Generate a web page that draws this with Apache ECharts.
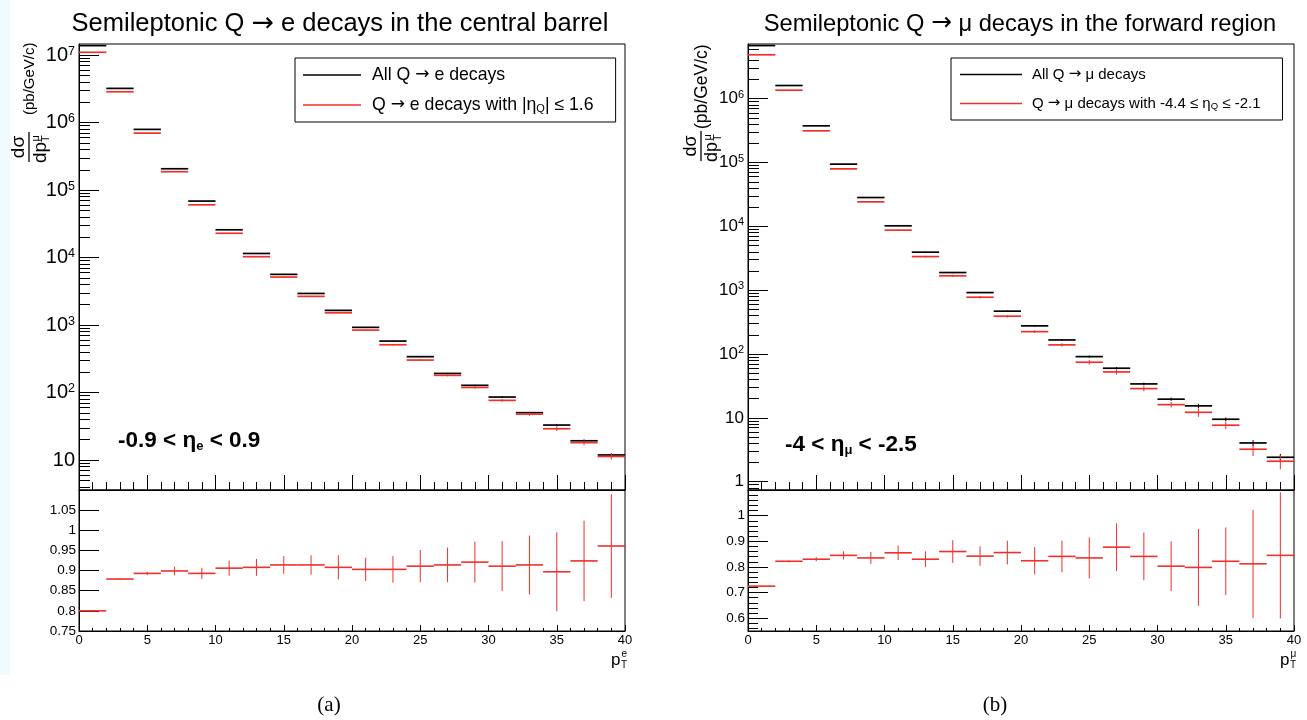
<!DOCTYPE html>
<html><head><meta charset="utf-8">
<script src="https://cdn.jsdelivr.net/npm/echarts@6/dist/echarts.min.js"></script>
<style>html,body{margin:0;padding:0;background:#fff}#c{width:1307px;height:720px}</style>
</head><body><div id="c"></div>
<script>
// ---------------- data ----------------
const binCenters = [1,3,5,7,9,11,13,15,17,19,21,23,25,27,29,31,33,35,37,39];
const binHalfWidth = 1;

// (a) central barrel, Q -> e
const eAll    = [1.38e7,3.21e6,7.93e5,2.07e5,6.87e4,2.58e4,1.15e4,5.64e3,2.94e3,1.65e3,925,579,340,192,128,85.8,50.3,33,19.3,11.9];
const eAllErr = [0.001,0.001,0.002,0.004,0.005,0.007,0.008,0.009,0.01,0.012,0.012,0.014,0.016,0.018,0.022,0.027,0.03,0.04,0.045,0.055];
const eCut    = [1.10e7,2.86e6,6.98e5,1.87e5,6.05e4,2.29e4,1.03e4,5.14e3,2.66e3,1.52e3,843,511,303,180,119,76.6,48,29.1,18.1,11.3];
const eCutErr = [0.001,0.002,0.004,0.008,0.01,0.013,0.015,0.017,0.018,0.022,0.022,0.025,0.03,0.033,0.04,0.05,0.055,0.075,0.08,0.1];
const eRatio    = [0.80,0.879,0.893,0.899,0.893,0.906,0.908,0.914,0.914,0.908,0.903,0.903,0.911,0.914,0.921,0.911,0.914,0.897,0.924,0.961];
const eRatioErr = [0.001,0.002,0.004,0.011,0.014,0.019,0.021,0.022,0.024,0.030,0.029,0.033,0.040,0.043,0.051,0.062,0.073,0.098,0.10,0.129];

// (b) forward region, Q -> mu
const muAll    = [6.8e6,1.61e6,3.76e5,9.44e4,2.83e4,1.02e4,3.94e3,1.89e3,917,469,276,166,91,59.9,34,19.6,15.4,9.5,4.04,2.41];
const muAllErr = [0.002,0.003,0.005,0.008,0.01,0.012,0.015,0.02,0.02,0.025,0.03,0.035,0.04,0.045,0.05,0.06,0.08,0.07,0.11,0.13];
const muCut    = [4.88e6,1.36e6,3.14e5,7.96e4,2.42e4,8.72e3,3.36e3,1.68e3,776,391,224,139,74.3,52.4,28.7,16.1,12.2,7.66,3.22,2.09];
const muCutErr = [0.003,0.005,0.01,0.015,0.02,0.025,0.03,0.04,0.04,0.045,0.05,0.06,0.08,0.09,0.09,0.1,0.15,0.13,0.22,0.25];
const muRatio    = [0.725,0.822,0.830,0.845,0.835,0.855,0.830,0.860,0.842,0.856,0.824,0.841,0.835,0.877,0.841,0.803,0.798,0.822,0.812,0.845];
const muRatioErr = [0.002,0.004,0.008,0.016,0.023,0.028,0.031,0.044,0.038,0.046,0.053,0.062,0.080,0.093,0.093,0.097,0.150,0.132,0.211,0.246];

// axis ticks / labels
const logMajorA = [10,1e2,1e3,1e4,1e5,1e6,1e7];
const logMajorB = [1,10,1e2,1e3,1e4,1e5,1e6];
const ratioTicksB = [0.6,0.7,0.8,0.9,1.0];

const titleA = 'Semileptonic Q \u2192 e decays in the central barrel';
const titleB = 'Semileptonic Q \u2192 \u03bc decays in the forward region';
const legA = ['All Q \u2192 e decays', 'Q \u2192 e decays with |\u03b7_Q| \u2264 1.6'];
const legB = ['All Q \u2192 \u03bc decays', 'Q \u2192 \u03bc decays with -4.4 \u2264 \u03b7_Q \u2264 -2.1'];

// ---------------- helpers ----------------
const SANS = '"Liberation Sans", Arial, Helvetica, sans-serif';
const ARROWF = '"DejaVu Sans", sans-serif';
const BLACK = '#000000';
const RED = '#f0302a';

function minorLog(lo, hi) {
  const out = [];
  for (let n = lo; n <= hi; n++) for (let k = 2; k <= 9; k++) out.push(k * Math.pow(10, n));
  return out;
}
function minorLin(lo, hi, step, skip) {
  const out = [];
  const n = Math.round((hi - lo) / step);
  for (let i = 0; i <= n; i++) {
    const v = +(lo + i * step).toFixed(4);
    if (!skip.some(s => Math.abs(s - v) < 1e-6)) out.push(v);
  }
  return out;
}
function histData(vals, rel) { return binCenters.map((c, i) => [c, vals[i], vals[i] * rel[i]]); }
function ratioData(vals, err) { return binCenters.map((c, i) => [c, vals[i], err[i]]); }
function histRender(color, w) {
  return function (params, api) {
    const x = api.value(0), y = api.value(1), e = api.value(2);
    const p1 = api.coord([x - binHalfWidth, y]);
    const p2 = api.coord([x + binHalfWidth, y]);
    const lo = api.coord([x, Math.max(y - e, 1e-9)]);
    const hi = api.coord([x, y + e]);
    return {
      type: 'group', children: [
        { type: 'line', shape: { x1: p1[0], y1: p1[1], x2: p2[0], y2: p2[1] }, style: { stroke: color, lineWidth: w } },
        { type: 'line', shape: { x1: lo[0], y1: lo[1], x2: hi[0], y2: hi[1] }, style: { stroke: color, lineWidth: 1 } }
      ]
    };
  };
}
function powLabel(v) {
  const n = Math.round(Math.log10(v));
  if (n <= 1) return String(Math.round(v));
  return '10{sup|' + n + '}';
}
function richArrow(s) { return s.replace('\u2192', '{arr|\u2192}'); }
function legendFmt(name) {
  return richArrow(name).replace('\u03b7_Q', '\u03b7{sub|Q}');
}

// ---------------- layout ----------------
const G = [
  { left: 79, top: 44, width: 546, height: 446 },
  { left: 79, top: 490, width: 546, height: 141 },
  { left: 748, top: 44, width: 546, height: 446 },
  { left: 748, top: 490, width: 546, height: 141 }
];

function topX(gi) {
  return {
    type: 'value', gridIndex: gi, min: 0, max: 40, interval: 5,
    axisLine: { show: true, lineStyle: { color: BLACK, width: 1 } },
    axisTick: { show: true, inside: true, length: 15, lineStyle: { color: BLACK } },
    minorTick: { show: true, splitNumber: 5, length: 8, lineStyle: { color: BLACK } },
    axisLabel: { show: false }, splitLine: { show: false }
  };
}
function ratioX(gi) {
  return {
    type: 'value', gridIndex: gi, min: 0, max: 40, interval: 5,
    axisLine: { show: true, lineStyle: { color: BLACK, width: 1 } },
    axisTick: { show: true, inside: true, length: 6, lineStyle: { color: BLACK } },
    minorTick: { show: true, splitNumber: 5, length: 3, lineStyle: { color: BLACK } },
    axisLabel: { show: true, margin: 3, fontSize: 13, fontFamily: SANS, color: BLACK },
    splitLine: { show: false }
  };
}
function logY(gi, min, max, major, fs, sfs) {
  return {
    type: 'log', logBase: 10, gridIndex: gi, min: min, max: max, position: 'left',
    axisLine: { show: true, lineStyle: { color: BLACK, width: 1 } },
    axisTick: { show: true, inside: true, length: 20, customValues: major, lineStyle: { color: BLACK } },
    axisLabel: {
      show: true, margin: 4, customValues: major, fontSize: fs, fontFamily: SANS, color: BLACK,
      formatter: powLabel,
      rich: { sup: { fontSize: sfs, fontFamily: SANS, color: BLACK, verticalAlign: 'top', padding: [0, 0, 8, 0] } }
    },
    splitLine: { show: false }, minorTick: { show: false }
  };
}
function logYMinor(gi, min, max, minor) {
  return {
    type: 'log', logBase: 10, gridIndex: gi, min: min, max: max, position: 'left', offset: 0,
    axisLine: { show: false },
    axisTick: { show: true, inside: true, length: 11, customValues: minor, lineStyle: { color: BLACK } },
    axisLabel: { show: false }, splitLine: { show: false }
  };
}

const option = {
  animation: false,
  backgroundColor: '#ffffff',
  grid: G.map(g => Object.assign({ show: true, borderColor: BLACK, borderWidth: 1, backgroundColor: 'transparent', containLabel: false }, g)),
  xAxis: [topX(0), ratioX(1), topX(2), ratioX(3)],
  yAxis: [
    logY(0, 3.6, 1.46e7, logMajorA, 20, 12.5),
    logYMinor(0, 3.6, 1.46e7, minorLog(0, 7)),
    {
      type: 'value', gridIndex: 1, min: 0.75, max: 1.1, interval: 0.05, position: 'left',
      axisLine: { show: true, lineStyle: { color: BLACK } },
      axisTick: { show: true, inside: true, length: 20, lineStyle: { color: BLACK } },
      axisLabel: { show: true, margin: 3, fontSize: 13.5, fontFamily: SANS, color: BLACK, showMaxLabel: false },
      splitLine: { show: false }
    },
    logY(2, 0.74, 7.2e6, logMajorB, 17, 11),
    logYMinor(2, 0.74, 7.2e6, minorLog(-1, 6)),
    {
      type: 'value', gridIndex: 3, min: 0.55, max: 1.1, position: 'left',
      axisLine: { show: true, lineStyle: { color: BLACK } },
      axisTick: { show: true, inside: true, length: 20, customValues: ratioTicksB, lineStyle: { color: BLACK } },
      axisLabel: { show: true, margin: 3, fontSize: 13.5, fontFamily: SANS, color: BLACK, customValues: ratioTicksB },
      splitLine: { show: false }
    },
    {
      type: 'value', gridIndex: 3, min: 0.55, max: 1.1, position: 'left', offset: 0,
      axisLine: { show: false },
      axisTick: { show: true, inside: true, length: 10, customValues: minorLin(0.56, 1.08, 0.02, ratioTicksB), lineStyle: { color: BLACK } },
      axisLabel: { show: false }, splitLine: { show: false }
    }
  ],
  legend: [
    {
      left: 295, top: 58, orient: 'vertical', selectedMode: false,
      data: [{ name: legA[0], icon: 'rect' }, { name: legA[1], icon: 'rect' }],
      itemWidth: 58, itemHeight: 1.5, itemGap: 12,
      borderColor: BLACK, borderWidth: 1, padding: [8, 22, 8, 8], backgroundColor: '#fff',
      formatter: legendFmt,
      textStyle: { fontSize: 17.7, fontFamily: SANS, color: BLACK, padding: [0, 0, 0, 6],
        rich: {
          sub: { fontSize: 11, fontFamily: SANS, color: BLACK, verticalAlign: 'bottom', padding: [6, 0, 0, 0] },
          arr: { fontSize: 17, fontFamily: ARROWF, color: BLACK }
        } }
    },
    {
      left: 951, top: 58, orient: 'vertical', selectedMode: false,
      data: [{ name: legB[0], icon: 'rect' }, { name: legB[1], icon: 'rect' }],
      itemWidth: 62, itemHeight: 1.5, itemGap: 14,
      borderColor: BLACK, borderWidth: 1, padding: [9, 22, 9, 9], backgroundColor: '#fff',
      formatter: legendFmt,
      textStyle: { fontSize: 15, fontFamily: SANS, color: BLACK, padding: [0, 0, 0, 5],
        rich: {
          sub: { fontSize: 9.5, fontFamily: SANS, color: BLACK, verticalAlign: 'bottom', padding: [5, 0, 0, 0] },
          arr: { fontSize: 15, fontFamily: ARROWF, color: BLACK }
        } }
    }
  ],
  series: [
    { type: 'custom', name: legA[0], xAxisIndex: 0, yAxisIndex: 0, itemStyle: { color: BLACK }, clip: true,
      renderItem: histRender(BLACK, 1.7), data: histData(eAll, eAllErr), encode: { x: 0, y: 1 } },
    { type: 'custom', name: legA[1], xAxisIndex: 0, yAxisIndex: 0, itemStyle: { color: RED }, clip: true,
      renderItem: histRender(RED, 1.7), data: histData(eCut, eCutErr), encode: { x: 0, y: 1 } },
    { type: 'custom', name: 'ratioA', xAxisIndex: 1, yAxisIndex: 2, itemStyle: { color: RED }, clip: true,
      renderItem: histRender(RED, 1.6), data: ratioData(eRatio, eRatioErr), encode: { x: 0, y: 1 } },
    { type: 'custom', name: legB[0], xAxisIndex: 2, yAxisIndex: 3, itemStyle: { color: BLACK }, clip: true,
      renderItem: histRender(BLACK, 1.7), data: histData(muAll, muAllErr), encode: { x: 0, y: 1 } },
    { type: 'custom', name: legB[1], xAxisIndex: 2, yAxisIndex: 3, itemStyle: { color: RED }, clip: true,
      renderItem: histRender(RED, 1.7), data: histData(muCut, muCutErr), encode: { x: 0, y: 1 } },
    { type: 'custom', name: 'ratioB', xAxisIndex: 3, yAxisIndex: 5, itemStyle: { color: RED }, clip: true,
      renderItem: histRender(RED, 1.6), data: ratioData(muRatio, muRatioErr), encode: { x: 0, y: 1 } }
  ]
};

// ---------------- text decorations ----------------
function yTitle(cx, cy, nameStart, unitSize, fracSize) {
  const f = fracSize + 'px ' + SANS;
  const fu = unitSize + 'px ' + SANS;
  const fs = '11px ' + SANS;
  return {
    type: 'group', x: cx, y: cy, rotation: Math.PI / 2, silent: true,
    children: [
      { type: 'text', x: 0, y: -1, style: { text: 'd\u03c3', font: f, fill: BLACK, align: 'center', verticalAlign: 'bottom' } },
      { type: 'line', shape: { x1: -15, y1: 0, x2: 15, y2: 0 }, style: { stroke: BLACK, lineWidth: 1.3 } },
      { type: 'text', x: -16, y: 2, style: { text: 'dp', font: f, fill: BLACK, align: 'left', verticalAlign: 'top' } },
      { type: 'text', x: 5, y: 11, style: { text: 'T', font: fs, fill: BLACK, align: 'left', verticalAlign: 'top' } },
      { type: 'text', x: 5.5, y: 1, style: { text: '\u03bc', font: fs, fill: BLACK, align: 'left', verticalAlign: 'top' } },
      { type: 'text', x: nameStart, y: 1, style: { text: '(pb/GeV/c)', font: fu, fill: BLACK, align: 'left', verticalAlign: 'middle' } }
    ]
  };
}
function ptLabel(x, y, sup) {
  return {
    type: 'group', x: x, y: y, silent: true, children: [
      { type: 'text', x: 0, y: 0, style: { text: 'p', font: '17px ' + SANS, fill: BLACK, align: 'left', verticalAlign: 'middle' } },
      { type: 'text', x: 10, y: 5, style: { text: 'T', font: '10px ' + SANS, fill: BLACK, align: 'left', verticalAlign: 'middle' } },
      { type: 'text', x: 10.5, y: -6, style: { text: sup, font: '10px ' + SANS, fill: BLACK, align: 'left', verticalAlign: 'middle' } }
    ]
  };
}
function titleText(x, s, size) {
  return { type: 'text', x: x, y: 24, silent: true, style: {
    text: richArrow(s), font: size + 'px ' + SANS, fill: BLACK, align: 'center', verticalAlign: 'middle',
    rich: { arr: { font: (size * 1.05) + 'px ' + ARROWF, fill: BLACK } } } };
}
option.graphic = [
  { type: 'rect', silent: true, z: -10, shape: { x: 0, y: 0, width: 10, height: 675 }, style: { fill: '#f1fbfd' } },
  titleText(340, titleA, 25.5),
  titleText(1020, titleB, 23.7),
  yTitle(29, 147, 32, 15, 19),
  yTitle(701, 146, 17, 17.5, 18),
  { type: 'text', x: 118, y: 441, silent: true, style: {
      text: '-0.9 < \u03b7{sub|e} < 0.9', font: 'bold 22.5px ' + SANS, fill: BLACK, align: 'left', verticalAlign: 'middle',
      rich: { sub: { font: 'bold 13px ' + SANS, fill: BLACK, verticalAlign: 'bottom', padding: [9, 0, 0, 0] } } } },
  { type: 'text', x: 785, y: 445, silent: true, style: {
      text: '-4 < \u03b7{sub|\u03bc} < -2.5', font: 'bold 22.5px ' + SANS, fill: BLACK, align: 'left', verticalAlign: 'middle',
      rich: { sub: { font: 'bold 13px ' + SANS, fill: BLACK, verticalAlign: 'bottom', padding: [9, 0, 0, 0] } } } },
  ptLabel(611, 660, 'e'),
  ptLabel(1280, 660, '\u03bc'),
  { type: 'text', x: 329, y: 705, silent: true, style: { text: '(a)', font: '21px "Liberation Serif", "DejaVu Serif", serif', fill: BLACK, align: 'center', verticalAlign: 'middle' } },
  { type: 'text', x: 995, y: 705, silent: true, style: { text: '(b)', font: '21px "Liberation Serif", "DejaVu Serif", serif', fill: BLACK, align: 'center', verticalAlign: 'middle' } }
];

const chart = echarts.init(document.getElementById('c'), null, { renderer: 'canvas' });
chart.setOption(option);
</script>
</body></html>
